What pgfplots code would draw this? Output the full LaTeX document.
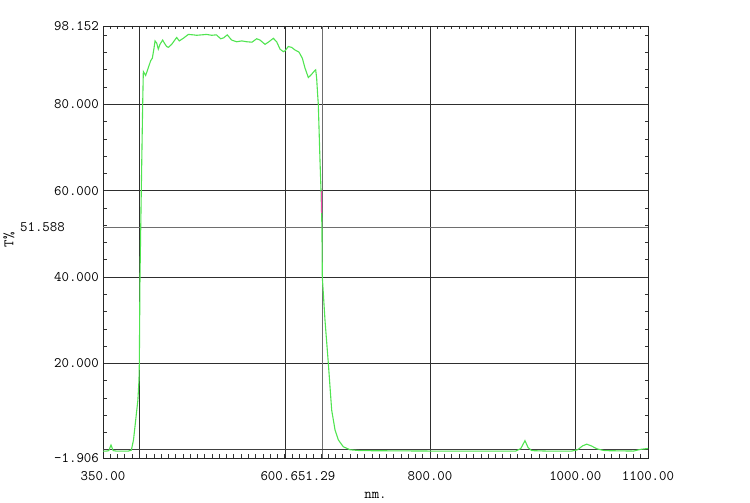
\documentclass[border=0pt]{standalone}
\usepackage{fontspec}
\usepackage{pgfplots}
\pgfplotsset{compat=1.18}
\definecolor{curvegreen}{RGB}{80,228,80}
\definecolor{cursorgray}{RGB}{110,110,110}
\newcommand\tf{\fontsize{14.5}{16}\selectfont\ttfamily}
\begin{document}
\begin{tikzpicture}
\useasboundingbox (0,0) rectangle (750bp,503bp);
\begin{axis}[
  at={(103bp,45bp)}, anchor=south west,
  scale only axis, width=545bp, height=432bp,
  xmin=350, xmax=1100, ymin=-1.906, ymax=98.152,
  axis line style={black!85, line width=0.8bp},
  xtick={350,400,600.6,800,1000,1100},
  xticklabels={350.00,,{600.6\hspace*{12bp}},800.00,1000.00,1100.00},
  ytick={-1.906,20,40,60,80,98.152},
  yticklabels={-1.906,20.000,40.000,60.000,80.000,98.152},
  extra x ticks={651.29},
  extra x tick labels={{651.29\hspace*{18bp}}},
  extra x tick style={grid=major, major grid style={cursorgray, line width=0.8bp},
     xticklabel style={fill=white, inner xsep=0.5bp}},
  extra y ticks={51.588},
  extra y tick labels={{51.588\hspace*{34bp}}},
  extra y tick style={grid=major, major grid style={cursorgray, line width=0.8bp}},
  minor xtick={360,370,...,1090},
  minor ytick={4,8,...,96},
  grid=major,
  major grid style={black!82, line width=0.8bp},
  tick align=inside,
  major tick length=0bp,
  minor tick length=3.5bp,
  tick style={black!80, line width=0.7bp},
  xticklabel style={font=\tf, inner sep=0pt, yshift=-13bp},
  yticklabel style={font=\tf, inner sep=0pt, xshift=-4bp},
  xlabel={nm.}, ylabel={T\%},
  xlabel style={font=\tf, at={(axis description cs:0.5,0)}, anchor=center, yshift=-37bp},
  ylabel style={font=\tf, at={(axis description cs:-0.1725,0.505)}, anchor=center},
]
\draw[black!75, line width=0.8bp] (axis cs:350,0) -- (axis cs:1100,0);
\addplot[curvegreen, line width=1.1bp] coordinates {
(350,-0.3) (355,-0.3) (358,-0.2) (361,1.1) (364,-0.2) (368,-0.3) (385,-0.3) (389,-0.1)
(392,2.3) (395,6.9) (398,11.5) (399.5,16) (400.0,20) (400.9,40) (402.7,60) (404.6,80)
(405.5,87.6) (408.7,86.7) (412.4,88.5) (415.6,90.1) (417.9,90.7) (420.2,93.0) (421.6,94.7)
(423.9,94.2) (426.1,92.8) (428.4,93.9) (432.1,94.9) (434.4,94.2) (437.6,93.4) (439.9,93.2)
(444.5,93.9) (451.4,95.5) (455.0,94.7) (460.5,95.3) (467.4,96.2) (474.3,96.1) (478.9,96.0)
(485.8,96.1) (492.7,96.2) (499.5,96.0) (506,96.1) (512,95.2) (516,95.4) (521,96.1)
(527,94.9) (534,94.5) (541,94.7) (548,94.5) (555,94.4) (561.5,95.2) (566,94.9) (573,93.9)
(577.5,94.4) (584.4,95.3) (589,94.5) (593.6,92.8) (598.2,92.2) (600.5,92.4) (605,93.4)
(609.6,93.2) (614.2,92.6) (619.7,92.1) (624.3,90.7) (628,88.4) (632.6,86.2) (636.2,86.8)
(640.8,87.7) (642.7,88.0) (644.0,86.1) (645.4,82.2) (646.3,80) (648.6,67.1) (650,60.2)
(651.29,51.6) (651.8,40) (655.5,30) (660.1,20) (664.7,9.2) (669.3,4.6) (673.8,2.3)
(680.7,0.7) (690,0.0) (704,-0.2) (800,-0.3) (900,-0.3) (918,-0.3) (925,0.3) (930.7,2.1)
(935,0.5) (940,-0.2) (960,-0.3) (995,-0.3) (1003,0.0) (1010,0.9) (1015.6,1.3) (1022,0.9)
(1030,0.2) (1040,-0.2) (1080,-0.3) (1090,0.1) (1100,0.3)
};
\addplot[magenta!70, line width=1bp] coordinates {(651.29,54.8) (651.29,60)};
\end{axis}
\end{tikzpicture}
\end{document}
